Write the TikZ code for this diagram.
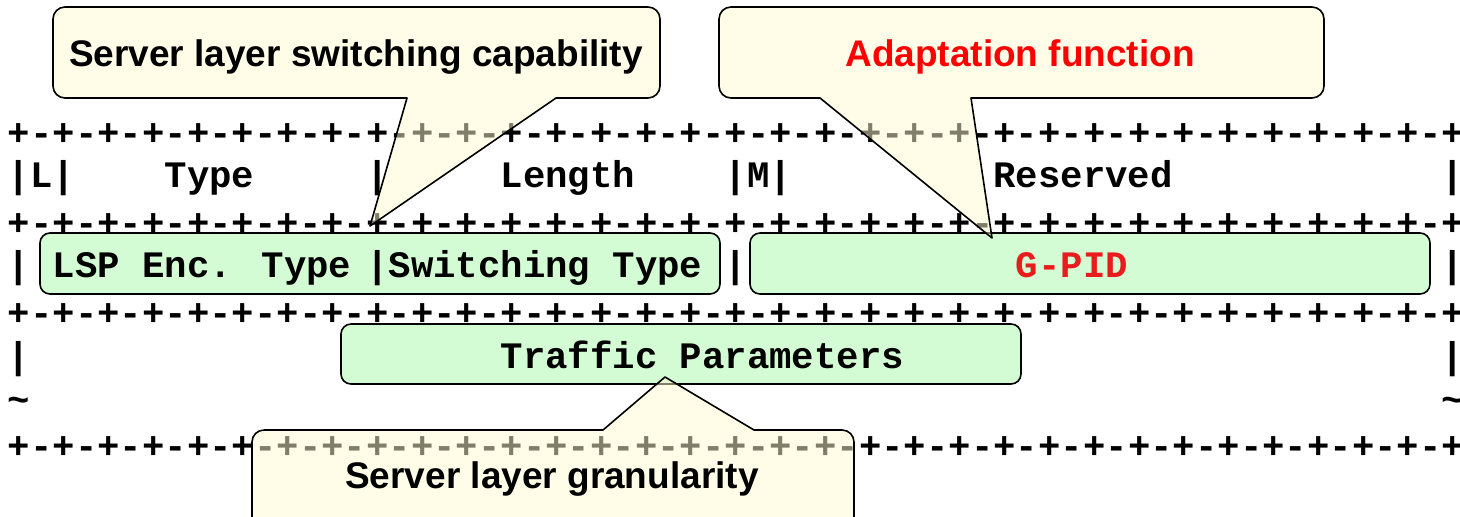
\documentclass[tikz,border=0pt]{standalone}
\usepackage{fontspec}
\setmainfont{Liberation Sans}
\newfontfamily\monofont{Liberation Mono}
\newfontfamily\callfont{Liberation Sans}
\definecolor{boxgreen}{RGB}{212,252,212}
\definecolor{callfill}{RGB}{255,251,209}
\definecolor{gpidred}{RGB}{232,28,28}
\newcommand{\cx}[1]{7.4+22.4*#1}
\newcommand{\rpart}{+-+-+-+-+-+-+-+-}
\newcommand{\rulerline}{\rpart\rpart\rpart\rpart+}
\begin{document}
\begin{tikzpicture}[x=0.5pt,y=-0.5pt,
  mono/.style={anchor=base west,inner sep=0pt,font=\monofont\bfseries\fontsize{18.67}{20}\selectfont},
  calltext/.style={anchor=base,inner sep=0pt,font=\callfont\bfseries\fontsize{18.5}{20}\selectfont},
  gbox/.style={draw=black,line width=0.8pt,fill=boxgreen,rounded corners=5pt},
  callout/.style={draw=black,line width=0.8pt,fill=callfill,fill opacity=0.5,line join=round}]
\clip (0,0) rectangle (1460,516);
% green field boxes
\draw[gbox] (40,233) rectangle (720,294);
\draw[gbox] (750,233) rectangle (1430,294);
\draw[gbox] (341,324) rectangle (1021,384);
% ruler lines
\node[mono] (ruleA) at ({\cx{0}},145) {\rulerline};
\node[mono] (ruleB) at ({\cx{0}},235) {\rulerline};
\node[mono] (ruleC) at ({\cx{0}},325) {\rulerline};
\node[mono] (ruleD) at ({\cx{0}},458) {\rulerline};
% row 1
\node[mono] (l1) at ({\cx{0}},187) {|L|};
\node[mono] (typ) at ({\cx{7}},187) {Type};
\node[mono] (b1) at ({\cx{16}},187) {|};
\node[mono] (len) at ({\cx{22}},187) {Length};
\node[mono] (mbit) at ({\cx{32}},187) {|M|};
\node[mono] (res) at ({\cx{44}},187) {Reserved};
\node[mono] (e1) at ({\cx{64}},187) {|};
% row 2
\node[mono] (s2) at ({\cx{0}},277) {|};
\node[mono] (lsp) at ({\cx{2}},277) {LSP Enc. Type};
\node[mono] (swt) at ({\cx{16}},277) {|Switching Type};
\node[mono] (b2) at ({\cx{32}},277) {|};
\node[mono,text=gpidred] (gpid) at ({\cx{45}},277) {G-PID};
\node[mono] (e2) at ({\cx{64}},277) {|};
% row 3
\node[mono] (s3) at ({\cx{0}},368) {|};
\node[mono] (trf) at ({\cx{22}},368) {Traffic Parameters};
\node[mono] (e3) at ({\cx{64}},368) {|};
% row 4
\node[mono] (s4) at ({\cx{0}},412) {\textasciitilde};
\node[mono] (e4) at ({\cx{64}},412) {\textasciitilde};
% callouts
\draw[callout] (370,226) -- (556,98) -- (600,98) [rounded corners=6pt] -- (660,98) -- (660,7) -- (53,7) -- (53,98) -- (300,98) [sharp corners] -- (407,98) -- cycle;
\draw[callout] (992,238) -- (971,98) -- (1020,98) [rounded corners=6pt] -- (1324,98) -- (1324,7) -- (719,7) -- (719,98) -- (780,98) [sharp corners] -- (820,98) -- cycle;
\draw[callout] (665,377) -- (754,430) -- (800,430) [rounded corners=6pt] -- (854,430) -- (854,560) -- (252,560) -- (252,430) -- (560,430) [sharp corners] -- (603,430) -- cycle;
% callout texts
\node[calltext] (c1) at (356,66) {Server layer switching capability};
\node[calltext,text=red] (c2) at (1020,66) {Adaptation function};
\node[calltext] (c3) at (552,488) {Server layer granularity};
\end{tikzpicture}
\end{document}
